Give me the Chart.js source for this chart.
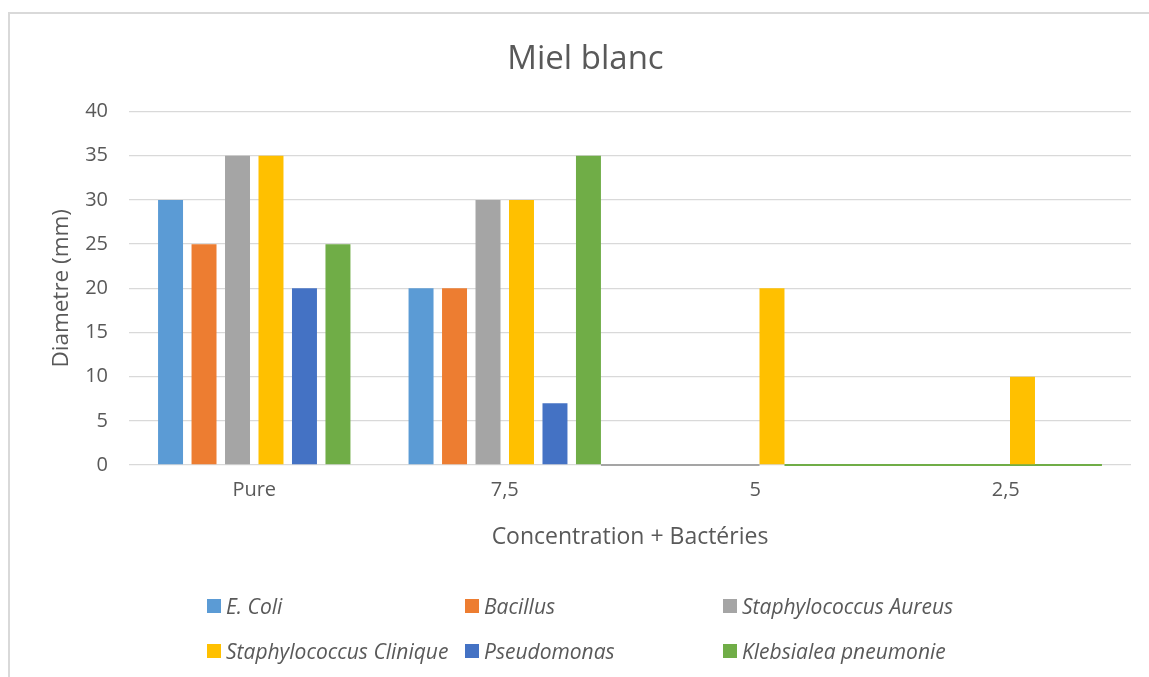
<!DOCTYPE html>
<html>
<head>
<meta charset="utf-8">
<script src="https://cdn.jsdelivr.net/npm/chart.js@4.4.1/dist/chart.umd.min.js"></script>
<style>
  html, body { margin: 0; padding: 0; background: #ffffff; }
  body { width: 1149px; height: 677px; position: relative; overflow: hidden; font-family: "Open Sans", sans-serif; }
  #frame { position: absolute; left: 8px; top: 12px; width: 1160px; height: 700px;
           border-left: 2px solid #d9d9d9; border-top: 2px solid #d9d9d9; box-sizing: border-box; }
  #wrap { position: absolute; left: 0; top: 0; width: 1149px; height: 677px; }
  #legend { position: absolute; left: 0; top: 0; width: 1149px; height: 677px; pointer-events: none; }
  .item { position: absolute; display: flex; align-items: center; height: 26px; color: #595959;
          font-style: italic; font-size: 21px; white-space: nowrap; }
  .swatch { width: 14px; height: 14px; margin-right: 5px; flex: none; }
</style>
</head>
<body>
<div id="frame"></div>
<div id="wrap"><canvas id="c" width="1149" height="677"></canvas></div>
<div id="legend"></div>
<script>
// Inhibition zone diameters (mm) per honey concentration
const categories = ['Pure', '7,5', '5', '2,5'];
const seriesNames = ['E. Coli', 'Bacillus', 'Staphylococcus Aureus', 'Staphylococcus Clinique', 'Pseudomonas', 'Klebsialea pneumonie'];
const eColi        = [30, 20, 0, 0];
const bacillus     = [25, 20, 0, 0];
const staphAureus  = [35, 30, 0, 0];
const staphClinique= [35, 30, 20, 10];
const pseudomonas  = [20, 7, 0, 0];
const klebsiella   = [25, 35, 0, 0];
const yTicks = [0, 5, 10, 15, 20, 25, 30, 35, 40];

const colors = ['#5B9BD5', '#ED7D31', '#A5A5A5', '#FFC000', '#4472C4', '#70AD47'];
const seriesValues = [eColi, bacillus, staphAureus, staphClinique, pseudomonas, klebsiella];
const textColor = '#595959';
const fontFamily = '"Open Sans", sans-serif';

// Coloured traces along the zero line where series have no inhibition
const zeroTrace = {
  id: 'zeroTrace',
  beforeDatasetsDraw(chart) {
    const ctx = chart.ctx;
    const y = chart.scales.y.getPixelForValue(0);
    const bar = (ds, i) => chart.getDatasetMeta(ds).data[i];
    const half = b => b.width / 2;
    const segs = [
      { from: bar(5, 1).x + half(bar(5, 1)), to: bar(3, 2).x - half(bar(3, 2)), color: colors[2] },
      { from: bar(3, 2).x + half(bar(3, 2)), to: bar(5, 3).x + half(bar(5, 3)), color: colors[5] }
    ];
    ctx.save();
    ctx.lineWidth = 2;
    segs.forEach(s => {
      ctx.strokeStyle = s.color;
      ctx.beginPath();
      ctx.moveTo(s.from, y);
      ctx.lineTo(s.to, y);
      ctx.stroke();
    });
    ctx.restore();
  }
};

const chart = new Chart(document.getElementById('c'), {
  type: 'bar',
  data: {
    labels: categories,
    datasets: seriesNames.map((name, i) => ({
      label: name,
      data: seriesValues[i],
      backgroundColor: colors[i],
      borderWidth: 0,
      categoryPercentage: 0.802,
      barPercentage: 0.746
    }))
  },
  options: {
    responsive: false,
    animation: false,
    devicePixelRatio: 1,
    layout: { padding: { left: 40, right: 18, top: 0, bottom: 112 } },
    plugins: {
      legend: { display: false },
      tooltip: { enabled: false },
      title: {
        display: true,
        text: 'Miel blanc',
        color: textColor,
        font: { family: fontFamily, size: 33, weight: 'normal' },
        padding: { top: 40, bottom: 32 }
      }
    },
    scales: {
      x: {
        grid: { display: false, drawTicks: false },
        border: { display: false },
        ticks: { color: textColor, font: { family: fontFamily, size: 20 }, padding: 13 },
        title: {
          display: true,
          text: 'Concentration + Bactéries',
          color: textColor,
          font: { family: fontFamily, size: 23 },
          padding: { top: 0, bottom: 14 }
        },
        afterFit(s) { s.height = 100; }
      },
      y: {
        min: 0,
        max: 40,
        afterBuildTicks(s) { s.ticks = yTicks.map(v => ({ value: v })); },
        grid: { color: '#d9d9d9', lineWidth: 1.3, drawTicks: false },
        border: { display: false },
        ticks: { color: textColor, font: { family: fontFamily, size: 20 }, padding: 21 },
        title: {
          display: true,
          text: 'Diametre (mm)',
          color: textColor,
          font: { family: fontFamily, size: 22.5 },
          padding: { top: 8, bottom: 0 }
        },
        afterFit(s) { s.width = 89; }
      }
    }
  },
  plugins: [zeroTrace]
});

// Legend laid out as a three-column grid
const legend = document.getElementById('legend');
seriesNames.forEach((name, i) => {
  const col = i % 3, row = Math.floor(i / 3);
  const item = document.createElement('div');
  item.className = 'item';
  item.style.left = (207 + col * 258) + 'px';
  item.style.top = (593 + row * 45) + 'px';
  const sw = document.createElement('span');
  sw.className = 'swatch';
  sw.style.background = colors[i];
  const tx = document.createElement('span');
  tx.textContent = name;
  item.appendChild(sw);
  item.appendChild(tx);
  legend.appendChild(item);
});
</script>
</body>
</html>
